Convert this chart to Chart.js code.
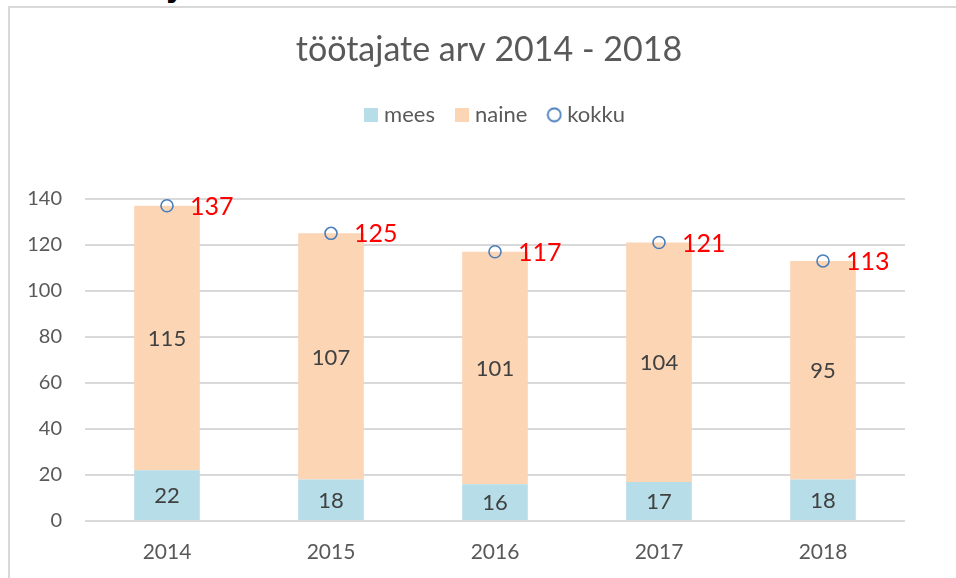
<!DOCTYPE html>
<html lang="et">
<head>
  <meta charset="UTF-8" />
  <title>töötajate arv 2014 - 2018</title>
  <style>
    html, body {
      margin: 0;
      padding: 0;
      background: #ffffff;
      overflow: hidden;
    }

    .frame {
      position: absolute;
      left: 8px;
      top: 6px;
      width: 1000px;
      height: 1000px;
      border: 2px solid #d9d9d9;
    }

    .cut-text {
      position: absolute;
      left: 165px;
      top: -31px;
      font-family: 'DejaVu Sans', sans-serif;
      font-weight: bold;
      font-size: 30px;
      color: #000;
    }

    #chart {
      position: absolute;
      left: 0;
      top: 0;
    }
  </style>
</head>
<body>
  <div class="frame"></div>
  <div class="cut-text">y</div>
  <!-- the original chart is wider than the window, so the canvas is too -->
  <canvas id="chart" width="978" height="578"></canvas>

  <script src="https://cdn.jsdelivr.net/npm/chart.js"></script>
  <script>
    // data
    const years = ['2014', '2015', '2016', '2017', '2018'];
    const mees = [22, 18, 16, 17, 18];
    const naine = [115, 107, 101, 104, 95];
    const kokku = [137, 125, 117, 121, 113];
    const yTicks = [0, 20, 40, 60, 80, 100, 120, 140];

    const FONT = 'Lato, "Open Sans", sans-serif';
    const GREY = '#595959';

    // small legend icons
    function squareIcon(color) {
      const c = document.createElement('canvas');
      c.width = 14; c.height = 14;
      const g = c.getContext('2d');
      g.fillStyle = color;
      g.fillRect(0, 0, 14, 14);
      return c;
    }
    function circleIcon(color) {
      const c = document.createElement('canvas');
      c.width = 16; c.height = 16;
      const g = c.getContext('2d');
      g.fillStyle = '#fff';
      g.strokeStyle = color;
      g.lineWidth = 1.8;
      g.beginPath();
      g.arc(8, 8, 6.5, 0, Math.PI * 2);
      g.fill();
      g.stroke();
      return c;
    }
    const icons = [squareIcon('#b7dde8'), squareIcon('#fcd5b5'), circleIcon('#4a7ebb')];

    // value labels, drawn from the elements' own positions
    const valueLabels = {
      id: 'valueLabels',
      afterLayout(chart) {
        // nudge the legend row a little to the right
        chart.legend.left += 16;
      },
      afterDatasetsDraw(chart) {
        const ctx = chart.ctx;
        ctx.save();
        chart.data.datasets.forEach((ds, i) => {
          const meta = chart.getDatasetMeta(i);
          meta.data.forEach((el, j) => {
            const v = ds.data[j];
            if (ds.type === 'line') {
              ctx.font = '25px ' + FONT;
              ctx.fillStyle = '#ff0000';
              ctx.textAlign = 'left';
              ctx.textBaseline = 'middle';
              ctx.fillText(v, el.x + 23, el.y + 1);
            } else {
              const p = el.getProps(['x', 'y', 'base'], true);
              ctx.font = '22px ' + FONT;
              ctx.fillStyle = '#404040';
              ctx.textAlign = 'center';
              ctx.textBaseline = 'middle';
              ctx.fillText(v, p.x, (p.y + p.base) / 2 + 1);
            }
          });
        });
        ctx.restore();
      }
    };

    new Chart(document.getElementById('chart'), {
      data: {
        labels: years,
        datasets: [
          {
            type: 'line',
            label: 'kokku',
            data: kokku,
            stack: 'total',
            showLine: false,
            pointStyle: 'circle',
            pointRadius: 6,
            pointBorderWidth: 1.6,
            pointBorderColor: '#4a7ebb',
            pointBackgroundColor: 'rgba(0,0,0,0)',
            order: 0
          },
          {
            type: 'bar',
            label: 'mees',
            data: mees,
            stack: 'a',
            backgroundColor: '#b7dde8',
            barPercentage: 0.4,
            categoryPercentage: 1,
            order: 1
          },
          {
            type: 'bar',
            label: 'naine',
            data: naine,
            stack: 'a',
            backgroundColor: '#fcd5b5',
            barPercentage: 0.4,
            categoryPercentage: 1,
            order: 1
          }
        ]
      },
      options: {
        responsive: false,
        animation: false,
        layout: { padding: 0 },
        scales: {
          x: {
            stacked: true,
            grid: { display: false, drawTicks: false },
            border: { display: false },
            ticks: { color: GREY, font: { family: FONT, size: 21 }, padding: 19 },
            afterFit(scale) { scale.height = 57; }
          },
          y: {
            stacked: true,
            min: 0,
            max: 140,
            afterBuildTicks(scale) { scale.ticks = yTicks.map(v => ({ value: v })); },
            grid: { color: '#d9d9d9', lineWidth: 2, drawTicks: false },
            border: { display: false },
            ticks: { color: GREY, font: { family: FONT, size: 20 }, padding: 23 },
            afterFit(scale) { scale.width = 85; }
          },
          // empty space on the right of the plot
          yr: {
            position: 'right',
            min: 0,
            max: 140,
            grid: { display: false, drawTicks: false },
            border: { display: false },
            ticks: { display: false },
            afterFit(scale) { scale.width = 73; }
          }
        },
        plugins: {
          tooltip: { enabled: false },
          title: {
            display: true,
            text: 'töötajate arv 2014 - 2018',
            color: GREY,
            font: { family: FONT, size: 34, weight: 'normal' },
            padding: { top: 30, bottom: 8 }
          },
          legend: {
            display: true,
            labels: {
              color: GREY,
              font: { family: FONT, size: 22 },
              usePointStyle: true,
              pointStyleWidth: 4,
              boxHeight: 14,
              padding: 25,
              generateLabels(chart) {
                const items = Chart.defaults.plugins.legend.labels.generateLabels(chart);
                items.forEach(it => { it.pointStyle = icons[it.datasetIndex === 0 ? 2 : it.datasetIndex - 1]; });
                // order: mees, naine, kokku
                return items.sort((a, b) => (a.datasetIndex || 9) - (b.datasetIndex || 9));
              }
            }
          },
          subtitle: {
            display: true,
            text: ' ',
            weight: 500,
            font: { size: 10 },
            padding: { top: 0, bottom: 51 }
          }
        }
      },
      plugins: [valueLabels]
    });
  </script>
</body>
</html>
